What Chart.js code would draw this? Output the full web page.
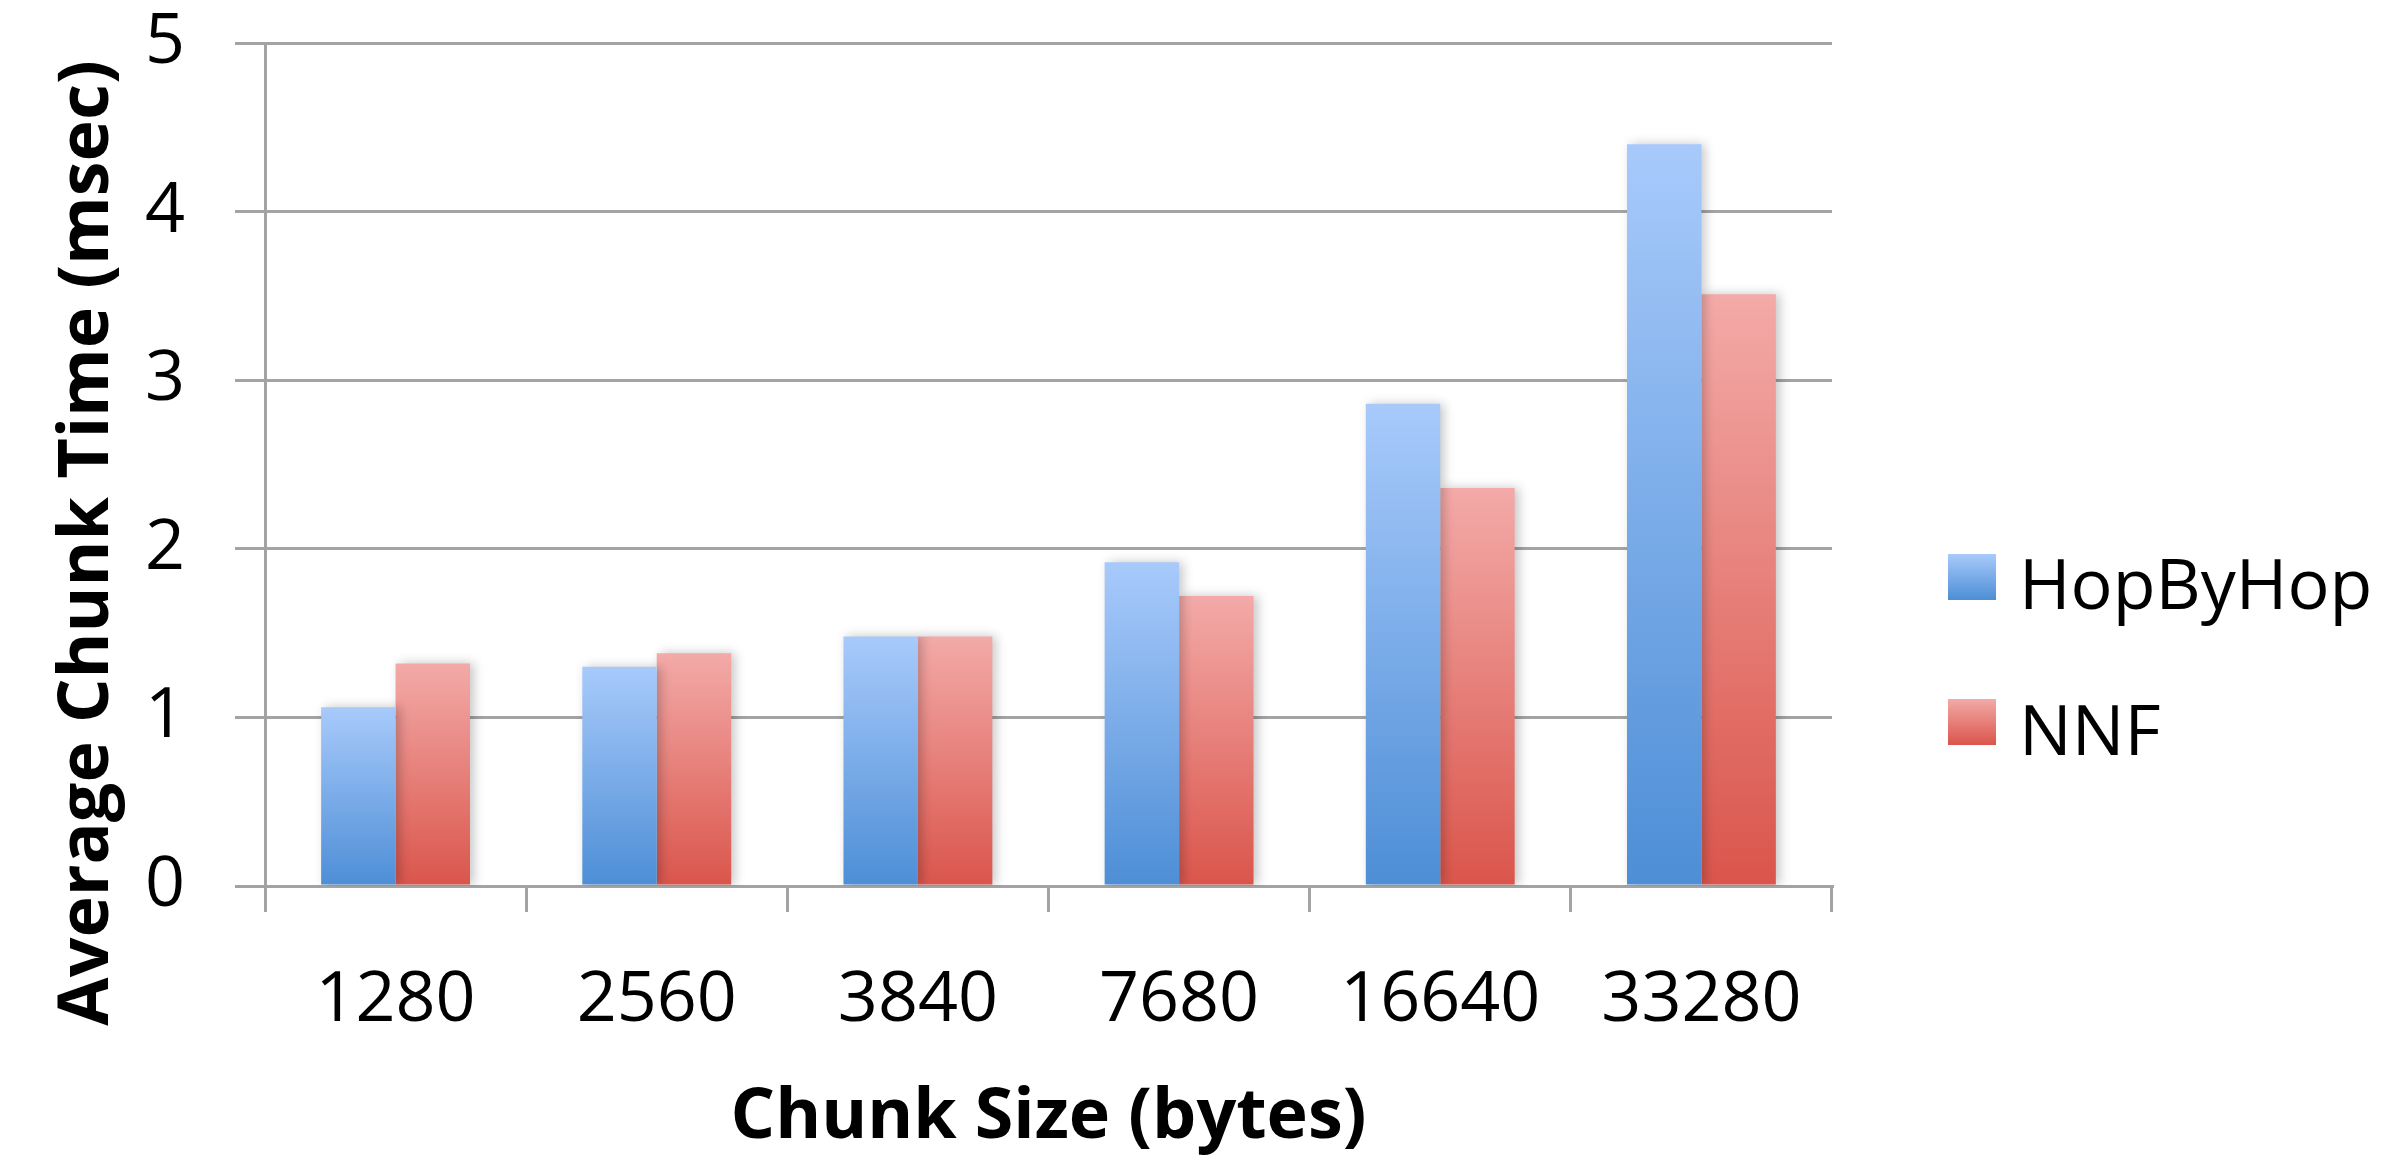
<!DOCTYPE html>
<html>
<head>
<meta charset="utf-8">
<script src="https://cdn.jsdelivr.net/npm/chart.js@4.4.1/dist/chart.umd.min.js"></script>
<style>
  html, body { margin:0; padding:0; background:#fff; }
  #wrap { width:2408px; height:1164px; }
</style>
</head>
<body>
<div id="wrap"><canvas id="chunkChart" width="2408" height="1164"></canvas></div>
<script>
var categories = ['1280', '2560', '3840', '7680', '16640', '33280'];
var hopByHop = [1.06, 1.30, 1.48, 1.92, 2.86, 4.40];
var nnf = [1.32, 1.38, 1.48, 1.72, 2.36, 3.51];
var seriesNames = ['HopByHop', 'NNF'];
var yMin = 0, yMax = 5, yStep = 1;
var xTitle = 'Chunk Size (bytes)';
var yTitle = 'Average Chunk Time (msec)';

var lineGray = '#a3a3a3';
var fontFamily = "'Open Sans', 'DejaVu Sans', sans-serif";

// colours of the gradient: [top, bottom]
var blueFill = ['#a8cafb', '#4d8ed6'];
var redFill = ['#f3aaa8', '#da554b'];

function barFill(colors) {
    return function(ctx) {
        if (ctx.type !== 'data') return colors[1];
        var chart = ctx.chart;
        var y = chart.scales.y;
        if (!y || !chart.chartArea) return colors[1];
        var y0 = y.getPixelForValue(0);
        var y1 = y.getPixelForValue(ctx.raw);
        var g = chart.ctx.createLinearGradient(0, y1, 0, y0);
        g.addColorStop(0, colors[0]);
        g.addColorStop(1, colors[1]);
        return g;
    }
}

// soft shadow behind the bars, like the office chart
var barShadow = {
    id: 'barShadow',
    beforeDatasetsDraw: function(chart) {
        var c = chart.ctx;
        c.save();
        c.shadowColor = 'rgba(0,0,0,0.22)';
        c.shadowBlur = 10;
        c.shadowOffsetX = 4;
        c.shadowOffsetY = 0;
    },
    afterDatasetsDraw: function(chart) {
        chart.ctx.restore();
    }
}

// y title and legend drawn by hand to sit where the original has them
var sideText = {
    id: 'sideText',
    afterDraw: function(chart) {
        var c = chart.ctx;
        c.save();
        c.fillStyle = '#000';
        c.font = 'bold 70px ' + fontFamily;
        c.textAlign = 'center';
        c.textBaseline = 'middle';
        c.translate(88, 543);
        c.rotate(-Math.PI / 2);
        c.fillText(yTitle, 0, 0);
        c.restore();

        var fills = [blueFill, redFill];
        var boxTop = [554, 699];
        var baseLine = [609, 755];
        c.save();
        c.font = '70px ' + fontFamily;
        c.textAlign = 'left';
        c.textBaseline = 'alphabetic';
        for (var i = 0; i < chart.data.datasets.length; i++) {
            var g = c.createLinearGradient(0, boxTop[i], 0, boxTop[i] + 46);
            g.addColorStop(0, fills[i][0]);
            g.addColorStop(1, fills[i][1]);
            c.fillStyle = g;
            c.fillRect(1948, boxTop[i], 48, 46);
            c.fillStyle = '#000';
            c.fillText(chart.data.datasets[i].label, 2019, baseLine[i]);
        }
        c.restore();
    }
}

Chart.defaults.font.family = fontFamily;
Chart.defaults.color = '#000';

var chunkChart = new Chart(document.getElementById('chunkChart'), {
    type: 'bar',
    data: {
        labels: categories,
        datasets: [{
            label: seriesNames[0],
            data: hopByHop,
            backgroundColor: barFill(blueFill),
            borderWidth: 0
        }, {
            label: seriesNames[1],
            data: nnf,
            backgroundColor: barFill(redFill),
            borderWidth: 0
        }]
    },
    options: {
        responsive: false,
        animation: false,
        layout: {
            padding: { top: 43, right: 576, bottom: 4, left: 0 }
        },
        categoryPercentage: 0.57,
        barPercentage: 1.0,
        plugins: {
            legend: { display: false },
            tooltip: { enabled: false }
        },
        scales: {
            x: {
                grid: {
                    offset: true,
                    drawOnChartArea: false,
                    drawTicks: true,
                    tickLength: 26,
                    color: lineGray,
                    lineWidth: 3
                },
                border: { display: true, color: lineGray, width: 3 },
                ticks: {
                    font: { size: 70 },
                    padding: 47,
                    maxRotation: 0
                },
                title: {
                    display: true,
                    text: xTitle,
                    font: { size: 70, weight: 'bold' },
                    padding: { top: 0, bottom: 0 }
                },
                afterFit: function(scale) {
                    scale.height = 274;
                    scale.paddingLeft = 0;
                    scale.paddingRight = 0;
                }
            },
            y: {
                min: yMin,
                max: yMax,
                grid: {
                    color: lineGray,
                    lineWidth: 3,
                    tickLength: 30
                },
                border: { display: true, color: lineGray, width: 3 },
                ticks: {
                    stepSize: yStep,
                    font: { size: 70 },
                    padding: 50
                },
                afterFit: function(scale) {
                    scale.width = 265;
                    scale.paddingTop = 0;
                    scale.paddingBottom = 0;
                }
            }
        }
    },
    plugins: [barShadow, sideText]
})
</script>
</body>
</html>
